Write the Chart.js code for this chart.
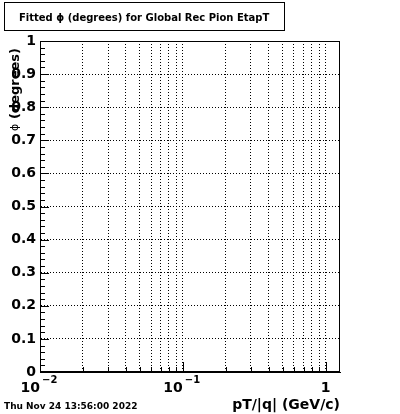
<!DOCTYPE html>
<html>
<head>
<meta charset="utf-8">
<script src="https://cdn.jsdelivr.net/npm/chart.js@4/dist/chart.umd.min.js"></script>
<style>
html,body{margin:0;padding:0;background:#fff;}
#wrap{width:400px;height:414px;position:relative;}
</style>
</head>
<body>
<div id="wrap"><canvas id="c" width="400" height="414"></canvas></div>
<script>
// ---- data (empty histogram frame) ----
const titleText = "Fitted \u03d5 (degrees) for Global Rec Pion EtapT";
const xAxisTitle = "pT/|q| (GeV/c)";
const yAxisTitleSymbol = "\u03d5";
const yAxisTitleText = "(degrees)";
const dateText = "Thu Nov 24 13:56:00 2022";
const xRange = [0.01, 1.26];
const yRange = [0, 1];
const yMajorTicks = [0, 0.1, 0.2, 0.3, 0.4, 0.5, 0.6, 0.7, 0.8, 0.9, 1];
const yMinorTicks = [0.02,0.04,0.06,0.08,0.12,0.14,0.16,0.18,0.22,0.24,0.26,0.28,0.32,0.34,0.36,0.38,0.42,0.44,0.46,0.48,0.52,0.54,0.56,0.58,0.62,0.64,0.66,0.68,0.72,0.74,0.76,0.78,0.82,0.84,0.86,0.88,0.92,0.94,0.96,0.98];
const xMajorTicks = [0.01, 0.1, 1];
const xMinorTicks = [0.02,0.03,0.04,0.05,0.06,0.07,0.08,0.09,0.2,0.3,0.4,0.5,0.6,0.7,0.8,0.9];
const xTickBase = ["10", "10", "1"];
const xTickExp = ["\u22122", "\u22121", ""];

const FONT = "'DejaVu Sans', sans-serif";

const framePlugin = {
  id: 'rootFrame',
  afterDraw(chart) {
    const ctx = chart.ctx;
    const a = chart.chartArea;
    const xs = chart.scales.x, ys = chart.scales.y;
    ctx.save();
    ctx.strokeStyle = '#000';
    ctx.lineWidth = 1;
    ctx.setLineDash([]);
    // frame
    ctx.strokeRect(Math.round(a.left) + 0.5, Math.round(a.top) + 0.5,
                   Math.round(a.right - a.left) - 1, Math.round(a.bottom - a.top) - 1);
    // y ticks
    ctx.beginPath();
    yMajorTicks.forEach(v => {
      const y = Math.round(ys.getPixelForValue(v)) + 0.5;
      ctx.moveTo(a.left, y); ctx.lineTo(a.left + 9, y);
    });
    yMinorTicks.forEach(v => {
      const y = Math.round(ys.getPixelForValue(v)) + 0.5;
      ctx.moveTo(a.left, y); ctx.lineTo(a.left + 5, y);
    });
    // x ticks
    xMajorTicks.forEach(v => {
      const x = Math.round(xs.getPixelForValue(v)) + 0.5;
      ctx.moveTo(x, a.bottom); ctx.lineTo(x, a.bottom - 10);
    });
    xMinorTicks.forEach(v => {
      const x = Math.round(xs.getPixelForValue(v)) + 0.5;
      ctx.moveTo(x, a.bottom); ctx.lineTo(x, a.bottom - 5);
    });
    ctx.stroke();

    // x tick labels with superscripts
    ctx.fillStyle = '#000';
    ctx.textBaseline = 'alphabetic';
    xMajorTicks.forEach((v, i) => {
      const x = xs.getPixelForValue(v);
      if (xTickExp[i]) {
        ctx.font = "bold 14px " + FONT;
        ctx.textAlign = 'right';
        ctx.fillText(xTickBase[i], x, a.bottom + 20);
        ctx.font = "bold 10px " + FONT;
        ctx.textAlign = 'left';
        ctx.fillText(xTickExp[i], x + 2, a.bottom + 11);
      } else {
        ctx.font = "bold 14px " + FONT;
        ctx.textAlign = 'center';
        ctx.fillText(xTickBase[i], x, a.bottom + 20);
      }
    });

    // axis titles
    ctx.font = "bold 14px " + FONT;
    ctx.textAlign = 'right';
    ctx.fillText(xAxisTitle, a.right, 409);
    ctx.save();
    ctx.translate(19, 48);
    ctx.rotate(-Math.PI / 2);
    ctx.textAlign = 'right';
    ctx.font = "bold 13px " + FONT;
    ctx.fillText(yAxisTitleText, 0, 0);
    const w = ctx.measureText(yAxisTitleText + " ").width;
    ctx.font = "11px " + FONT;
    ctx.fillText(yAxisTitleSymbol, -w, -1);
    ctx.restore();

    // title box
    ctx.strokeRect(4.5, 2.5, 280, 28);
    ctx.font = "bold 10px " + FONT;
    ctx.textAlign = 'left';
    ctx.fillText(titleText, 19, 21);

    // date
    ctx.font = "bold 9px " + FONT;
    ctx.fillText(dateText, 4, 409);
    ctx.restore();
  }
};

new Chart(document.getElementById('c'), {
  type: 'scatter',
  data: { datasets: [{ data: [], showLine: false }] },
  options: {
    responsive: false,
    animation: false,
    events: [],
    layout: { padding: { left: 0, top: 41, right: 60, bottom: 0 } },
    plugins: { legend: { display: false }, tooltip: { enabled: false }, title: { display: false } },
    scales: {
      x: {
        type: 'logarithmic',
        min: xRange[0], max: xRange[1],
        afterFit: s => { s.height = 42; },
        afterBuildTicks: s => { s.ticks = xMajorTicks.concat(xMinorTicks).sort((p, q) => p - q).map(v => ({ value: v })); },
        ticks: { display: false },
        grid: {
          drawTicks: false,
          lineWidth: 1,
          color: c => (c.tick && Math.abs(c.tick.value - xRange[0]) < 1e-9) ? 'rgba(0,0,0,0)' : '#000'
        },
        border: { display: true, color: '#000', width: 1, dash: [1, 2] }
      },
      y: {
        type: 'linear',
        min: yRange[0], max: yRange[1],
        afterFit: s => { s.width = 40; },
        afterBuildTicks: s => { s.ticks = yMajorTicks.map(v => ({ value: v })); },
        ticks: {
          color: '#000',
          padding: 4,
          font: { family: FONT, size: 14, weight: 'bold' },
          callback: v => String(Math.round(v * 10) / 10)
        },
        grid: {
          drawTicks: false,
          lineWidth: 1,
          color: c => (c.tick && (c.tick.value === 0 || c.tick.value === 1)) ? 'rgba(0,0,0,0)' : '#000'
        },
        border: { display: true, color: '#000', width: 1, dash: [1, 2] }
      }
    }
  },
  plugins: [framePlugin]
});
</script>
</body>
</html>
